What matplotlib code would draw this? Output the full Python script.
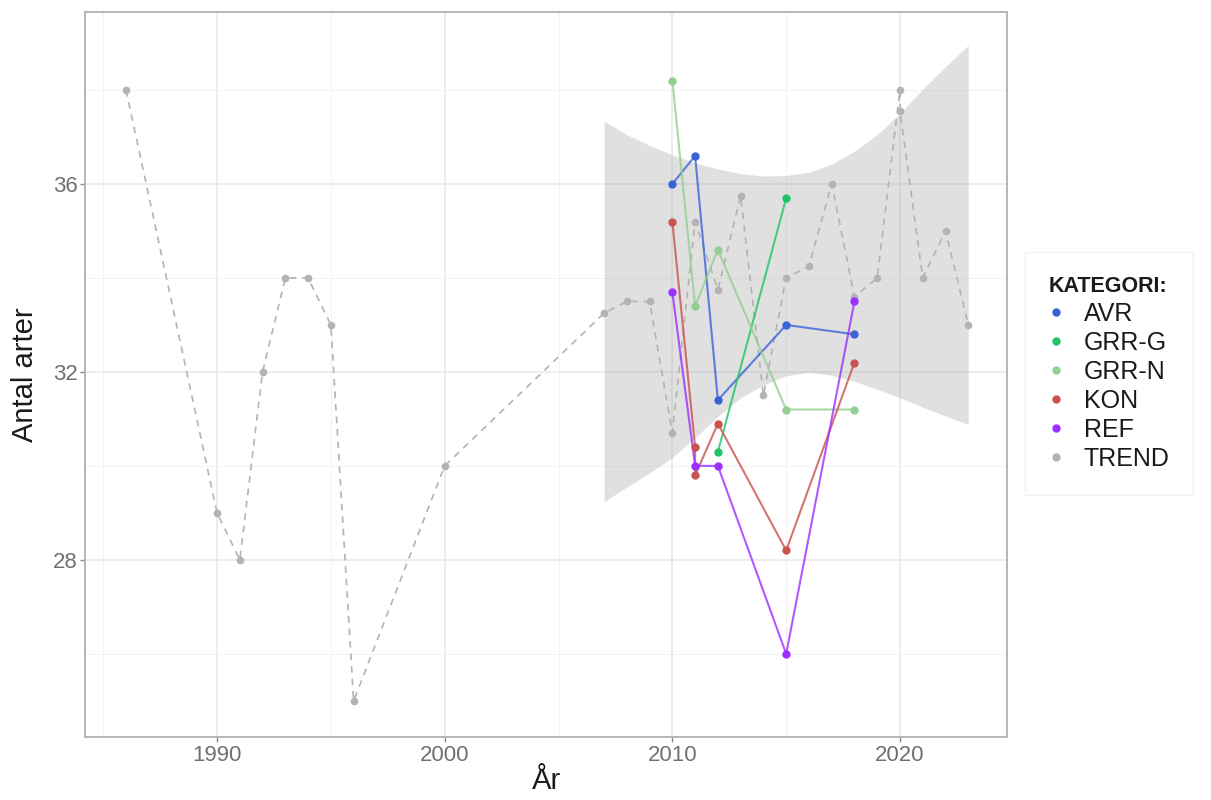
import matplotlib
matplotlib.use("Agg")
import matplotlib.pyplot as plt
from matplotlib.lines import Line2D

plt.rcParams['font.family'] = ['Liberation Sans', 'DejaVu Sans']

# ---- data ----
trend_years = [1986, 1990, 1991, 1992, 1993, 1994, 1995, 1996, 2000, 2007, 2008, 2009,
               2010, 2011, 2012, 2013, 2014, 2015, 2016, 2017, 2018, 2019, 2020, 2020,
               2021, 2022, 2023]
trend_vals = [38.0, 29.0, 28.0, 32.0, 34.0, 34.0, 33.0, 25.0, 30.0, 33.25, 33.5, 33.5,
              30.7, 35.2, 33.75, 35.75, 31.5, 34.0, 34.25, 36.0, 33.6, 34.0, 38.0, 37.55,
              34.0, 35.0, 33.0]

avr_years = [2010, 2011, 2012, 2015, 2018]
avr_vals = [36.0, 36.6, 31.4, 33.0, 32.8]

grrg_years = [2012, 2015]
grrg_vals = [30.3, 35.7]

grrn_years = [2010, 2011, 2012, 2015, 2018]
grrn_vals = [38.2, 33.4, 34.6, 31.2, 31.2]

kon_years = [2010, 2011, 2011, 2012, 2015, 2018]
kon_vals = [35.2, 30.4, 29.8, 30.9, 28.2, 32.2]

ref_years = [2010, 2011, 2012, 2015, 2018]
ref_vals = [33.7, 30.0, 30.0, 26.0, 33.5]

ribbon_years = list(range(2007, 2024))
ribbon_upper = [37.34, 37.05, 36.82, 36.62, 36.45, 36.32, 36.22, 36.17, 36.18, 36.25,
                36.42, 36.70, 37.05, 37.50, 38.02, 38.50, 38.95]
ribbon_lower = [29.24, 29.55, 29.85, 30.18, 30.60, 31.05, 31.45, 31.72, 31.92, 31.99,
                31.93, 31.80, 31.63, 31.45, 31.25, 31.06, 30.88]

categories = ['AVR', 'GRR-G', 'GRR-N', 'KON', 'REF', 'TREND']
colors = {'AVR': '#3b63d8', 'GRR-G': '#1fc46a', 'GRR-N': '#92cf92',
          'KON': '#c9534f', 'REF': '#9b30ff', 'TREND': '#b3b3b3'}

x_ticks = [1990, 2000, 2010, 2020]
y_ticks = [28, 32, 36]

# ---- figure ----
fig = plt.figure(figsize=(12.11, 8.0), dpi=100)
ax = fig.add_axes([85/1211, 63/800, 922/1211, 725/800])

ax.set_xlim(1984.2, 2024.7)
ax.set_ylim(24.23, 39.66)

# grid
ax.set_xticks(x_ticks)
ax.set_xticks([1985, 1995, 2005, 2015], minor=True)
ax.set_yticks(y_ticks)
ax.set_yticks([26, 30, 34, 38], minor=True)
ax.grid(which='major', color='#e8e8e8', linewidth=1.1, zorder=0)
ax.grid(which='minor', color='#f2f2f2', linewidth=0.7, zorder=0)
ax.set_axisbelow(True)

# ribbon
ax.fill_between(ribbon_years, ribbon_lower, ribbon_upper, color='#999999',
                alpha=0.3, linewidth=0, zorder=1)

# trend
ax.plot(trend_years, trend_vals, color=colors['TREND'], linestyle=(0, (4, 3.5)),
        linewidth=1.2, zorder=2)
ax.plot(trend_years, trend_vals, linestyle='none', marker='o', markersize=4.5,
        color=colors['TREND'], zorder=2)

series = [('AVR', avr_years, avr_vals), ('GRR-G', grrg_years, grrg_vals),
          ('GRR-N', grrn_years, grrn_vals), ('KON', kon_years, kon_vals),
          ('REF', ref_years, ref_vals)]
for name, xs, ys in series:
    c = colors[name]
    ax.plot(xs, ys, color=c, linewidth=1.5, alpha=0.8, zorder=3)
    ax.plot(xs, ys, linestyle='none', marker='o', markersize=5, color=c, zorder=4)

# axes styling
for sp in ax.spines.values():
    sp.set_color('#b5b5b5')
    sp.set_linewidth(1.4)
ax.tick_params(axis='both', which='major', length=3.5, width=1.0, color='#888888',
               labelcolor='#707070', labelsize=16, pad=2)
ax.tick_params(axis='both', which='minor', length=0)

ax.set_xlabel('År', fontsize=21, color='#1a1a1a', labelpad=1)
ax.set_ylabel('Antal arter', fontsize=21, color='#1a1a1a', labelpad=10)

# legend
handles = [Line2D([0], [0], linestyle='none', marker='o', markersize=5,
                  color=colors[c]) for c in categories]
leg = fig.legend(handles, categories, loc='upper left',
                 bbox_to_anchor=(1025/1211, 1 - 252/800),
                 title='KATEGORI:', title_fontproperties={'weight': 'bold', 'size': 15.5},
                 fontsize=18, frameon=True, fancybox=False, edgecolor='#eeeeee',
                 facecolor='white', borderpad=0.95, labelspacing=0.2,
                 handlelength=0.6, handletextpad=0.8, borderaxespad=0,
                 alignment='left')
leg.get_frame().set_linewidth(1.0)
for t in leg.get_texts():
    t.set_color('#1a1a1a')
leg.get_title().set_color('#1a1a1a')

fig.savefig('out.png', dpi=100)
